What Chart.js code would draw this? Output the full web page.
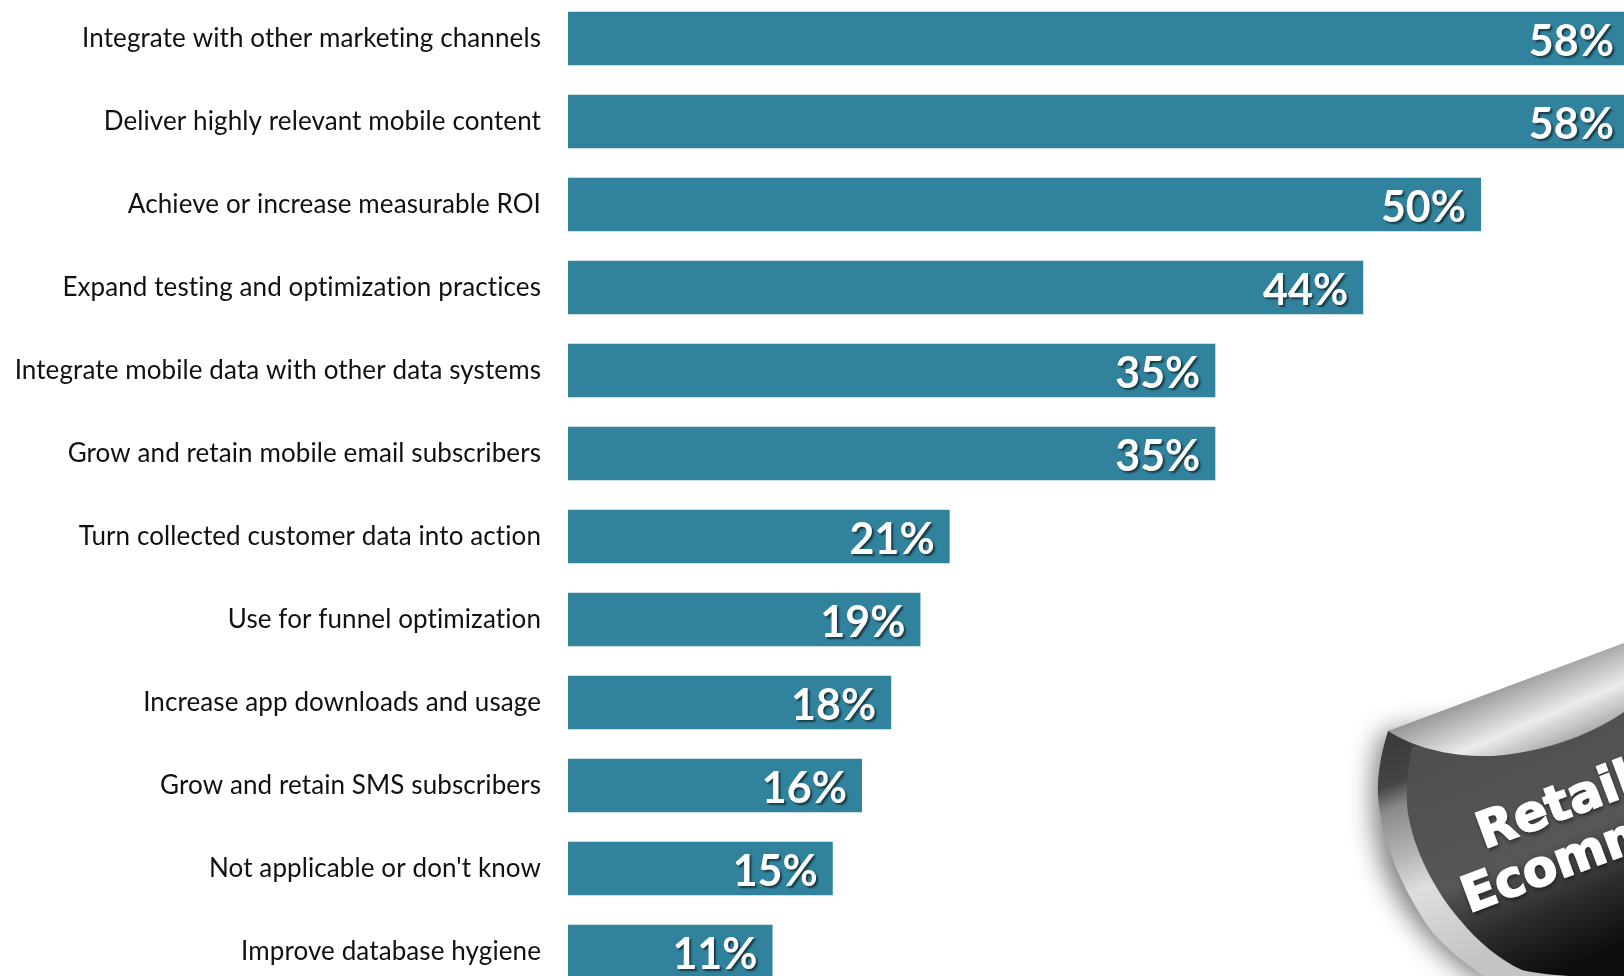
<!DOCTYPE html>
<html><head><meta charset="utf-8">
<style>
html,body{margin:0;padding:0;background:#fff;width:1624px;height:976px;overflow:hidden}
#wrap{position:absolute;left:0;top:0;width:1624px;height:976px;overflow:hidden}
#c{position:absolute;left:0;top:-3px}
#sticker{position:absolute;left:0;top:0}
</style>
<script src="https://cdn.jsdelivr.net/npm/chart.js@4/dist/chart.umd.min.js"></script>
</head><body>
<div id="wrap">
<canvas id="c" width="1624" height="996"></canvas>
<svg id="sticker" width="1624" height="976" viewBox="0 0 1624 976">
 <defs>
  <filter id="sh" x="-30%" y="-30%" width="160%" height="160%"><feGaussianBlur stdDeviation="13"/></filter>
  <filter id="ts" x="-10%" y="-20%" width="120%" height="140%"><feDropShadow dx="1" dy="2" stdDeviation="2" flood-color="#000" flood-opacity=".55"/></filter>
  <linearGradient id="rim" gradientUnits="userSpaceOnUse" x1="1385" y1="735" x2="1470" y2="960">
   <stop offset="0" stop-color="#3a3a3a"/><stop offset=".2" stop-color="#444"/><stop offset=".3" stop-color="#8a8a8a"/>
   <stop offset=".5" stop-color="#b5b5b5"/><stop offset=".65" stop-color="#dedede"/><stop offset="1" stop-color="#c4c4c4"/>
  </linearGradient>
  <linearGradient id="face" gradientUnits="userSpaceOnUse" x1="1450" y1="760" x2="1540" y2="976">
   <stop offset="0" stop-color="#4f4f4f"/><stop offset=".5" stop-color="#575757"/><stop offset=".75" stop-color="#2c2c2c"/><stop offset="1" stop-color="#0e0e0e"/>
  </linearGradient>
  <linearGradient id="curl" gradientUnits="userSpaceOnUse" x1="1490" y1="690" x2="1520" y2="760">
   <stop offset="0" stop-color="#9a9a9a"/><stop offset=".4" stop-color="#cfcfcf"/><stop offset=".6" stop-color="#ececec"/><stop offset="1" stop-color="#b0b0b0"/>
  </linearGradient>
 </defs>
 <path d="M1388 731 C1376 770 1374 815 1390 867 C1405 905 1440 950 1487 980 L1624 980 L1624 700 Z" fill="#000" opacity=".5" filter="url(#sh)" transform="translate(-6 2)"/>
 <path d="M1388 731 C1379 760 1376 785 1379 805 C1383 845 1405 895 1433 933 C1448 950 1468 966 1487 978 L1624 978 L1624 700 Z" fill="url(#rim)"/>
 <path d="M1412 747 C1408 765 1406 785 1407 805 C1410 840 1430 885 1460 920 C1478 942 1500 960 1522 970 C1545 976 1600 978 1624 978 L1624 705 Z" fill="url(#face)"/>
 <path d="M1388 731 L1624 643 L1624 712 C1590 735 1545 752 1493 756 C1450 757 1415 748 1388 731 Z" fill="url(#curl)"/>
 <g font-family="'DejaVu Sans'" font-weight="700" font-size="50" fill="#fff" stroke="#fff" stroke-width="1.6" filter="url(#ts)">
  <text transform="translate(1484 849) rotate(-20.4)">Retail</text>
  <text transform="translate(1469 913) rotate(-20.4)">Ecommerce</text>
 </g>
</svg>
</div>
<script>
const categories = [
  "Integrate with other marketing channels",
  "Deliver highly relevant mobile content",
  "Achieve or increase measurable ROI",
  "Expand testing and optimization practices",
  "Integrate mobile data with other data systems",
  "Grow and retain mobile email subscribers",
  "Turn collected customer data into action",
  "Use for funnel optimization",
  "Increase app downloads and usage",
  "Grow and retain SMS subscribers",
  "Not applicable or don't know",
  "Improve database hygiene"
];
const values = [58.1, 58.1, 50, 43.55, 35.45, 35.45, 20.9, 19.3, 17.7, 16.1, 14.5, 11.2];
const valueLabels = ["58%","58%","50%","44%","35%","35%","21%","19%","18%","16%","15%","11%"];

const tickSpacing = {
  id: "tickSpacing",
  beforeDraw(chart) { chart.ctx.letterSpacing = "0.1px"; }
};

const barLabels = {
  id: "barLabels",
  afterDatasetsDraw(chart) {
    const ctx = chart.ctx;
    const meta = chart.getDatasetMeta(0);
    ctx.save();
    ctx.font = "700 43px Lato";
    ctx.letterSpacing = "0px";
    ctx.textAlign = "right";
    ctx.textBaseline = "middle";
    ctx.fillStyle = "#ffffff";
    ctx.shadowColor = "rgba(0,0,0,.55)";
    ctx.shadowOffsetX = 2;
    ctx.shadowOffsetY = 2;
    ctx.shadowBlur = 2;
    meta.data.forEach((bar, i) => ctx.fillText(valueLabels[i], bar.x - 15, bar.y + 4));
    ctx.restore();
  }
};

new Chart(document.getElementById("c"), {
  type: "bar",
  data: { labels: categories, datasets: [{ data: values, backgroundColor: "#31839D", borderWidth: 0, barPercentage: 0.645, categoryPercentage: 1 }] },
  plugins: [tickSpacing, barLabels],
  options: {
    indexAxis: "y",
    responsive: false,
    animation: false,
    layout: { padding: 0 },
    plugins: { legend: { display: false }, title: { display: false }, tooltip: { enabled: false } },
    scales: {
      x: { display: false, min: 0, max: 57.83 },
      y: {
        afterFit(s) { s.width = 568; s.paddingTop = 0; s.paddingBottom = 0; },
        grid: { display: false, drawTicks: false },
        border: { display: false },
        ticks: { color: "#111111", padding: 27, autoSkip: false, font: { family: "Lato", size: 26 } }
      }
    }
  }
});
</script>
</body></html>
